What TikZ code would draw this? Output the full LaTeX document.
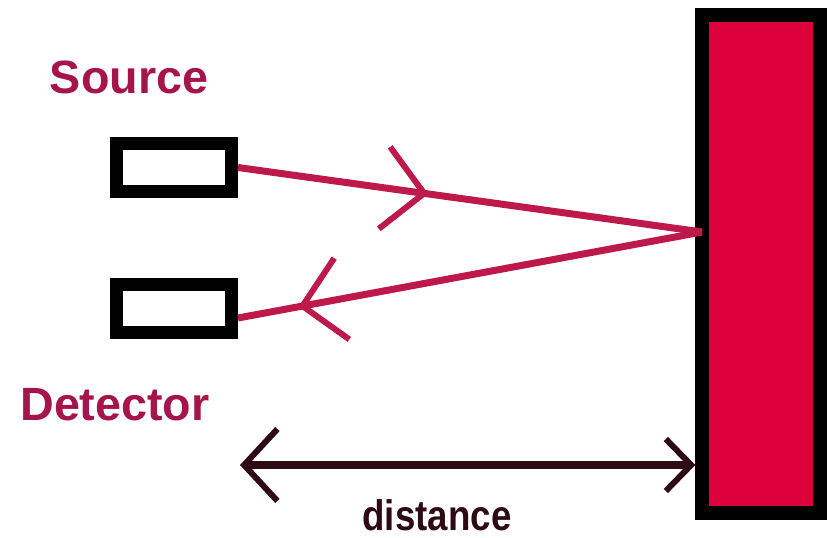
\documentclass[tikz,border=0pt]{standalone}
\usepackage{fontspec}
\usetikzlibrary{arrows.meta, positioning, calc, decorations.markings}
\setmainfont{Liberation Sans}
\newfontfamily\narrowfont{Liberation Sans}[FakeStretch=0.86]
\definecolor{beamcolor}{RGB}{190,25,75}
\definecolor{textcolor}{RGB}{165,20,75}
\definecolor{wallcolor}{RGB}{222,0,58}
\definecolor{distcolor}{RGB}{45,10,20}

\begin{document}
\begin{tikzpicture}[
    x=0.75pt, y=-0.75pt,
    box/.style={rectangle, draw=black, fill=white, line width=9.75pt, minimum width=86.25pt, minimum height=36pt, inner sep=0pt},
    wall/.style={rectangle, draw=black, fill=wallcolor, line width=10pt, minimum width=88.5pt, minimum height=373.5pt, inner sep=0pt},
    devtext/.style={anchor=base, text=textcolor, inner sep=0pt, font=\bfseries\fontsize{35}{40}\selectfont},
    beam/.style={draw=beamcolor, line width=5.25pt},
    midarrow/.style={postaction={decorate}, decoration={markings, mark=at position #1 with {\arrow[line width=4.5pt]{Straight Barb[length=30pt, width=62pt]}}}},
    distarrow/.style={draw=distcolor, line width=5.5pt, {Straight Barb[length=25pt, width=54pt, line width=4.5pt]}-{Straight Barb[length=19pt, width=39pt, line width=4.5pt]}}
]
\useasboundingbox (0,0) rectangle (827,538);

\node[wall] (wall) at (761,264) {};
\node[box] (src) at (174,167.5) {};
\node[box] (det) at (174,308) {};

\node[devtext] (srctext) at (129,94) {Source};
\node[devtext] (dettext) at (115,420) {Detector};

\coordinate (hit) at (702,232);
\coordinate (ret) at ($(det.east)+(0,10)$);
\draw[beam, midarrow=0.41] (src.east) -- (hit);
\draw[beam, midarrow=0.87] (hit) -- (ret);

\coordinate (distl) at (240,465);
\draw[distarrow] (distl) -- (wall.west |- distl);
\node[anchor=base, text=distcolor, inner sep=0pt, font=\narrowfont\bfseries\fontsize{32}{36}\selectfont] (disttext) at (437,530) {distance};

\end{tikzpicture}
\end{document}
